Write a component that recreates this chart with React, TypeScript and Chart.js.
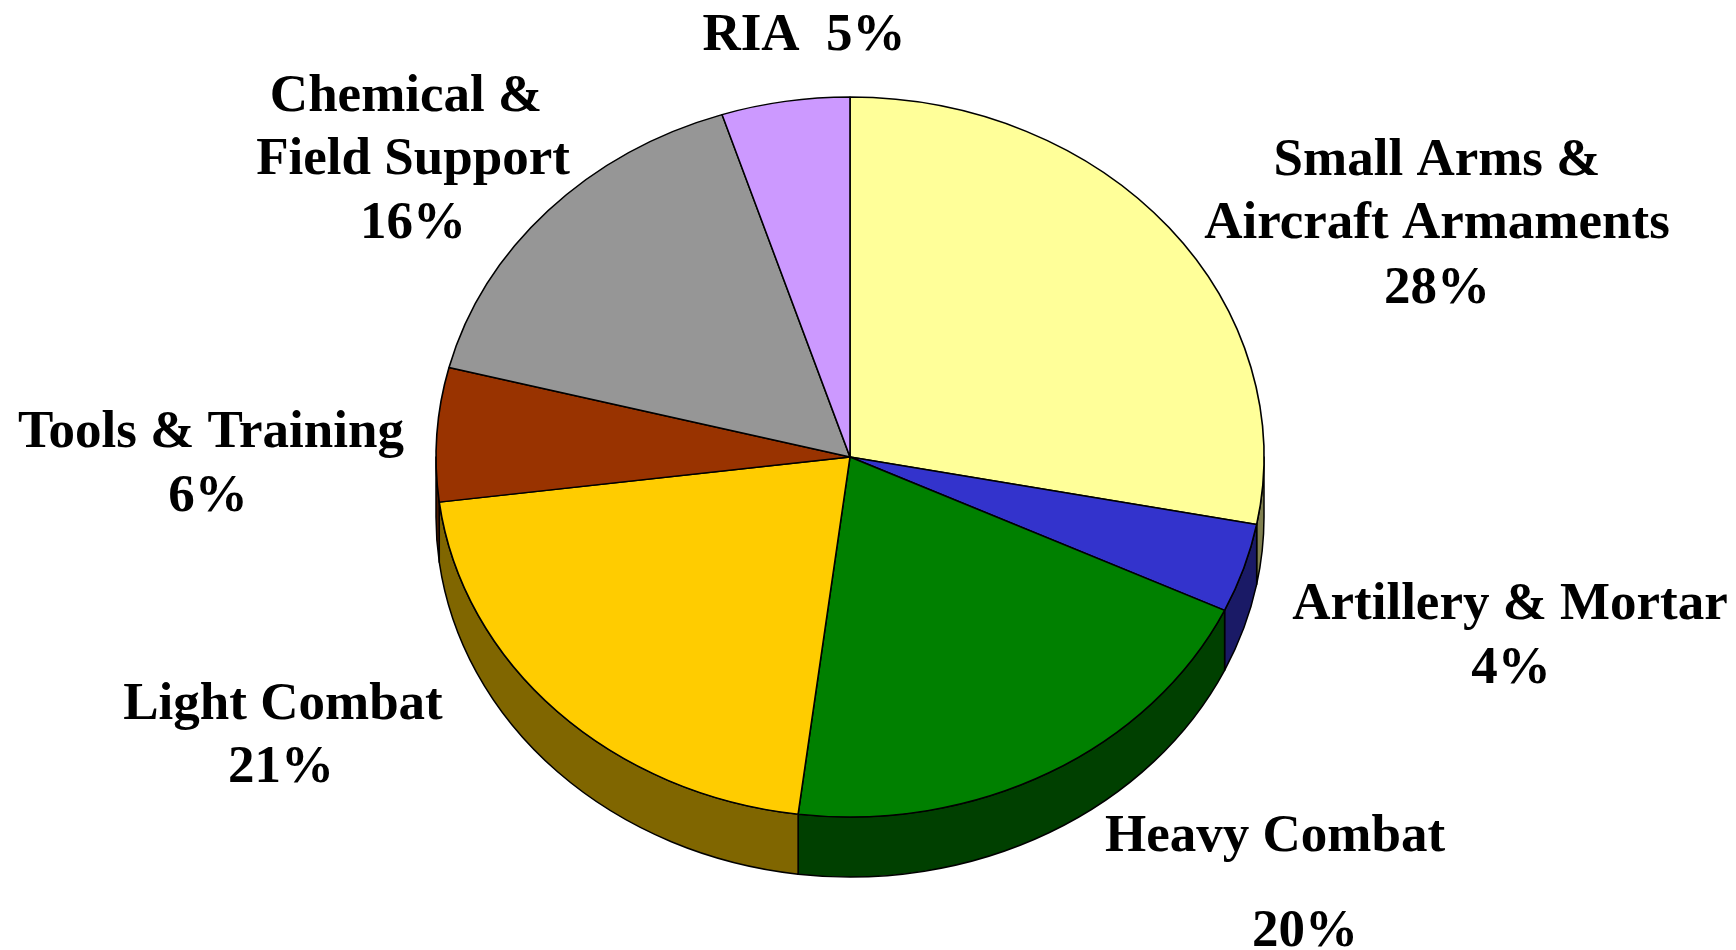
import React, { useEffect, useRef } from "react";
import { Chart, registerables } from "chart.js";

Chart.register(...registerables);

// ---- data ----
const categories = [
  "Small Arms & Aircraft Armaments",
  "Artillery & Mortar",
  "Heavy Combat",
  "Light Combat",
  "Tools & Training",
  "Chemical & Field Support",
  "RIA",
];
const shares = [28, 4, 20, 21, 6, 16, 5];
const topColors = ["#FFFF99", "#3333CC", "#008000", "#FFCC00", "#993300", "#969696", "#CC99FF"];
const sideColors = ["#808050", "#1A1A66", "#004000", "#806600", "#4D1A00", "#4B4B4B", "#664D80"];
const labelLines = [
  ["Small Arms &", "Aircraft Armaments", "28%"],
  ["Artillery & Mortar", "4%"],
  ["Heavy Combat", "20%"],
  ["Light Combat", "21%"],
  ["Tools & Training", "6%"],
  ["Chemical &", "Field Support", "16%"],
  ["RIA  5%"],
];

// ---- layout (positions, not data) ----
const W = 1736;
const H = 950;
const RX = 414; // horizontal radius
const RY = 360; // vertical radius of the tilted pie
const DEPTH = 60;
// label line anchors: [centerX, baseline] per line
const labelAnchors: number[][][] = [
  [[1437, 175], [1437, 238], [1437, 303]],
  [[1510, 619], [1511, 683]],
  [[1275, 851], [1305, 946]],
  [[283, 719], [281, 782]],
  [[211, 447], [208, 511]],
  [[406, 111], [413, 174], [413, 238]],
  [[804, 50]],
];

const FONT = "bold 53px 'Liberation Serif', 'Times New Roman', serif";

const pie3d = {
  id: "pie3d",
  beforeDatasetsDraw(chart: any) {
    const ctx = chart.ctx;
    const meta = chart.getDatasetMeta(0);
    ctx.save();
    meta.data.forEach((arc: any, i: number) => {
      const { x, y, startAngle, endAngle } = arc.getProps(["x", "y", "startAngle", "endAngle"], true);
      const a = Math.max(startAngle, 0);
      const b = Math.min(endAngle, Math.PI);
      if (b <= a) return;
      ctx.beginPath();
      ctx.ellipse(x, y, RX, RY, 0, a, b, false);
      ctx.lineTo(x + RX * Math.cos(b), y + RY * Math.sin(b) + DEPTH);
      ctx.ellipse(x, y + DEPTH, RX, RY, 0, b, a, true);
      ctx.closePath();
      ctx.fillStyle = sideColors[i];
      ctx.fill();
      ctx.lineWidth = 1.5;
      ctx.strokeStyle = "#000";
      ctx.lineJoin = "round";
      ctx.stroke();
    });
    ctx.restore();
  },
  beforeDatasetDraw(chart: any) {
    const ctx = chart.ctx;
    const arc = chart.getDatasetMeta(0).data[0];
    const cx = arc.x;
    const cy = arc.y;
    ctx.save();
    ctx.translate(cx, cy);
    ctx.scale(1, RY / RX);
    ctx.translate(-cx, -cy);
  },
  afterDatasetDraw(chart: any) {
    chart.ctx.restore();
  },
  afterDraw(chart: any) {
    const ctx = chart.ctx;
    ctx.save();
    ctx.font = FONT;
    ctx.fillStyle = "#000";
    ctx.textAlign = "center";
    ctx.textBaseline = "alphabetic";
    labelLines.forEach((lines, i) => {
      lines.forEach((t, j) => {
        const [lx, ly] = labelAnchors[i][j];
        ctx.fillText(t, lx, ly);
      });
    });
    ctx.restore();
  },
};

export default function App() {
  const ref = useRef<HTMLCanvasElement>(null);
  useEffect(() => {
    document.body.style.margin = "0";
    const chart = new Chart(ref.current!, {
      type: "pie",
      data: {
        labels: categories,
        datasets: [
          {
            data: shares,
            backgroundColor: topColors,
            borderColor: "#000",
            borderWidth: 1.6,
          },
        ],
      },
      options: {
        animation: false,
        responsive: false,
        radius: RX,
        layout: { padding: { left: 0, right: W - 2 * 850, top: 0, bottom: H - 2 * 457 } },
        plugins: { legend: { display: false }, tooltip: { enabled: false } },
      } as any,
      plugins: [pie3d],
    });
    return () => chart.destroy();
  }, []);
  return (
    <div style={{ width: W, height: H, background: "#fff" }}>
      <canvas ref={ref} width={W} height={H} style={{ display: "block" }} />
    </div>
  );
}
